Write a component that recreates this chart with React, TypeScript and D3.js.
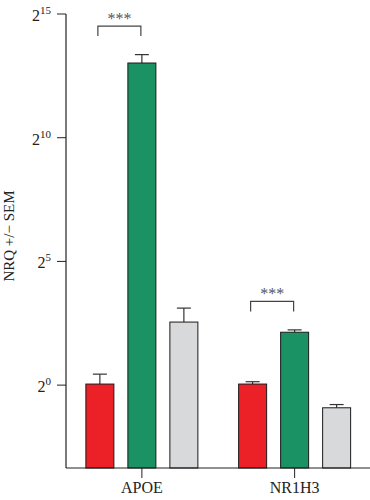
import React from "react";
import * as d3 from "d3";

const genes = ["APOE", "NR1H3"];
const series = ["control", "treated", "other"];
const seriesColors = ["#EC2027", "#1A9263", "#D8D9DB"];
// NRQ means and SEM per gene, in series order
const meanAPOE = [1.03, 8300, 5.85];
const semAPOE = [0.33, 2200, 2.8];
const meanNR1H3 = [1.03, 4.4, 0.53];
const semNR1H3 = [0.07, 0.3, 0.05];
const yTickExps = [0, 5, 10, 15];
const yLabel = "NRQ +/\u2212 SEM";
const sigLabel = "***";

const W = 370;
const H = 500;

export default function App() {
  const means = [meanAPOE, meanNR1H3];
  const sems = [semAPOE, semNR1H3];
  const axisX = 66;
  const axisBottom = 468;
  const y = d3.scaleLog().base(2).domain([Math.pow(2, -3.35), Math.pow(2, 15)]).range([axisBottom, 14]);
  const x0 = d3.scaleBand().domain(genes).range([65.5, 371]).padding(0);
  const x1 = d3
    .scaleBand()
    .domain(series)
    .range([-63, 63])
    .paddingInner(1 / 3)
    .paddingOuter(1 / 6);
  const bw = x1.bandwidth();
  const serif = "'Liberation Serif', 'Times New Roman', serif";
  const dark = "#222";

  return (
    <svg width={W} height={H} style={{ position: "absolute", left: 0, top: 0, background: "#fff" }}>
      {/* bars */}
      {genes.map((g, gi) => {
        const cx = (x0(g) as number) + x0.bandwidth() / 2;
        return (
          <g key={g}>
            {series.map((s, si) => {
              const left = cx + (x1(s) as number);
              const m = means[gi][si];
              const e = m + sems[gi][si];
              const top = y(m);
              const et = y(e);
              const bc = left + bw / 2;
              return (
                <g key={s}>
                  <line x1={bc} x2={bc} y1={top} y2={et} stroke="#333" strokeWidth={1.2} />
                  <line x1={bc - 7} x2={bc + 7} y1={et} y2={et} stroke="#333" strokeWidth={1.2} />
                  <rect
                    x={left}
                    y={top}
                    width={bw}
                    height={axisBottom - top}
                    fill={seriesColors[si]}
                    stroke="#1a1a1a"
                    strokeWidth={1}
                  />
                </g>
              );
            })}
            {/* significance bracket between first two series */}
            {(() => {
              const a = cx + (x1(series[0]) as number) + bw / 2 - 2;
              const b = cx + (x1(series[1]) as number) + bw / 2 - 1;
              const hi = Math.min(
                y(means[gi][0] + sems[gi][0]),
                y(means[gi][1] + sems[gi][1])
              );
              const by = hi - 28.5;
              return (
                <g>
                  <path
                    d={`M${a},${by + 10}V${by}H${b}V${by + 10}`}
                    fill="none"
                    stroke="#444"
                    strokeWidth={1.2}
                  />
                  <text
                    x={(a + b) / 2}
                    y={by - 2}
                    textAnchor="middle"
                    fontFamily={serif}
                    fontSize={16}
                    fill="#555"
                  >
                    {sigLabel}
                  </text>
                </g>
              );
            })()}
            <line x1={cx} x2={cx} y1={axisBottom} y2={axisBottom + 10} stroke={dark} strokeWidth={1} />
            <text x={cx} y={493} textAnchor="middle" fontFamily={serif} fontSize={16} fill={dark}>
              {g}
            </text>
          </g>
        );
      })}
      {/* axes */}
      <line x1={axisX} x2={axisX} y1={y(Math.pow(2, 15))} y2={axisBottom} stroke={dark} strokeWidth={1.2} />
      <line x1={axisX} x2={W} y1={axisBottom} y2={axisBottom} stroke={dark} strokeWidth={1.2} />
      {yTickExps.map((ex) => {
        const ty = y(Math.pow(2, ex));
        return (
          <g key={ex}>
            <line x1={axisX - 9} x2={axisX} y1={ty} y2={ty} stroke={dark} strokeWidth={1} />
            <text x={51} y={ty + 7} textAnchor="end" fontFamily={serif} fontSize={16} fill={dark}>
              2
              <tspan fontSize={11} dy={-7}>
                {ex}
              </tspan>
            </text>
          </g>
        );
      })}
      <text
        transform={`translate(14,236) rotate(-90)`}
        textAnchor="middle"
        fontFamily={serif}
        fontSize={15}
        fill={dark}
      >
        {yLabel}
      </text>
    </svg>
  );
}
